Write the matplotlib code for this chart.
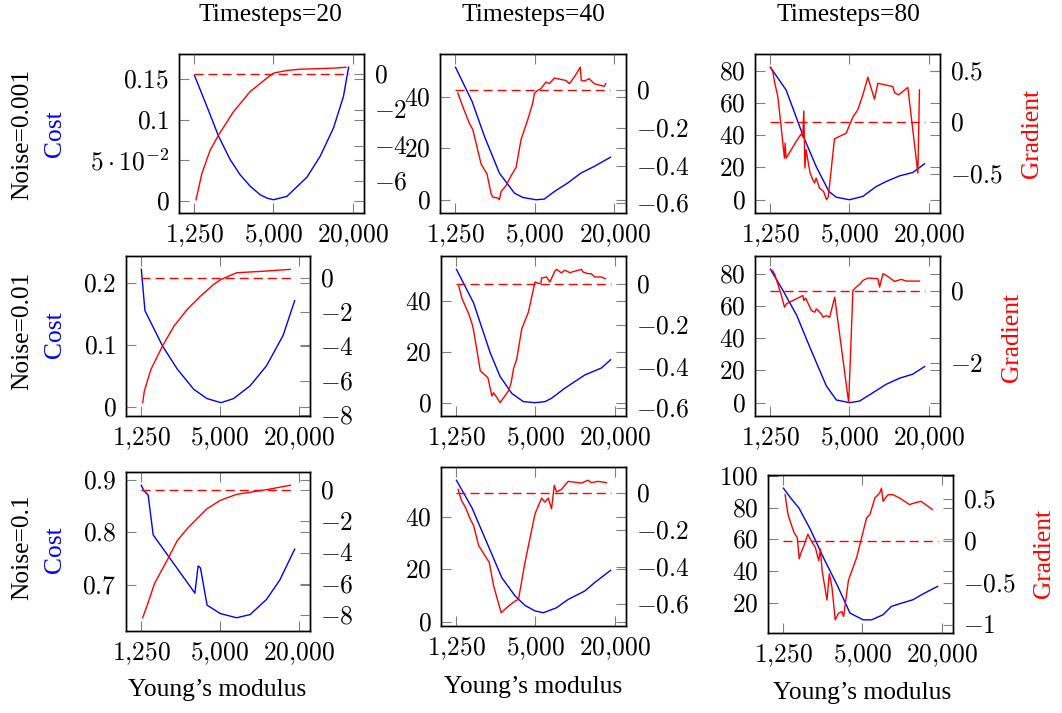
import numpy as np
import matplotlib
matplotlib.use("Agg")
import matplotlib.pyplot as plt
from matplotlib.ticker import FixedLocator, FixedFormatter, NullLocator

plt.rcParams['font.family'] = ['Liberation Serif', 'DejaVu Serif']
plt.rcParams['mathtext.fontset'] = 'cm'
FS = 18.4

timesteps = ["Timesteps=20", "Timesteps=40", "Timesteps=80"]
noises = ["Noise=0.001", "Noise=0.01", "Noise=0.1"]
x_ticks = [1250, 5000, 20000]
x_ticklabels = [r"$1{,}250$", r"$5{,}000$", r"$20{,}000$"]

# row 1: noise 0.001
c1_x = [1250, 1552, 1906, 2336, 2788, 3323, 3958, 4453, 5000, 6324, 8981, 11340, 14325, 17060, 18660]
c1_y = [0.155, 0.117, 0.080, 0.051, 0.032, 0.018, 0.0074, 0.0033, 0.0012, 0.0054, 0.029, 0.055, 0.090, 0.129, 0.165]
g1_x = [1287, 1423, 1646, 1906, 2480, 3323, 4453, 5000, 6324, 7992, 14325, 17811]
g1_y = [-7.03, -5.57, -4.26, -3.41, -2.10, -0.97, -0.22, 0.06, 0.21, 0.28, 0.34, 0.39]

c2_x = [1250, 1671, 2072, 2688, 3493, 4034, 5091, 5883, 7005, 8831, 11133, 14047, 18660]
c2_y = [51.7, 38.3, 24.7, 10.4, 2.6, 0.9, 0.0, 0.26, 3.2, 6.5, 10.4, 13.0, 16.6]
g2_x = [1302, 1420, 1590, 1690, 1955, 2167, 2327, 2395, 2612, 2688, 2768, 3020, 3294, 3597, 3918, 4403, 4802,
        4946, 5236, 5550, 6057, 6421, 7005, 8578, 9093, 9925, 11010, 11210, 11800, 12870, 14047, 16710, 17190]
g2_y = [-0.016, -0.089, -0.176, -0.210, -0.393, -0.445, -0.550, -0.567, -0.572, -0.581, -0.537, -0.506, -0.454,
        -0.410, -0.263, -0.158, -0.071, -0.019, -0.002, 0.007, 0.042, 0.033, 0.063, 0.050, 0.033, 0.068, 0.120,
        0.050, 0.047, 0.059, 0.033, 0.019, 0.033]

c3_x = [1250, 1646, 2204, 2788, 3480, 3958, 5000, 6324, 7992, 9510, 12030, 15200, 18660]
c3_y = [82.1, 68.0, 40.2, 20.6, 5.2, 1.6, 0.0, 2.1, 8.2, 11.3, 14.8, 16.9, 22.3]
g3_x = [1250, 1303, 1342, 1423, 1508, 1598, 1617, 1646, 1800, 1962, 2138, 2204, 2245, 2287, 2336, 2506, 2630,
        2707, 2788, 2950, 3170, 3345, 3452, 3843, 4716, 5300, 5784, 6324, 6900, 7750, 8220, 10700, 11020, 11810,
        13910, 16580, 17060]
g3_y = [0.532, 0.490, 0.394, 0.250, -0.038, -0.343, -0.199, -0.343, -0.263, -0.183, -0.112, -0.135, 0.112,
        -0.439, -0.263, -0.487, -0.551, -0.583, -0.535, -0.631, -0.663, -0.744, -0.712, -0.157, -0.103, 0.051,
        0.122, 0.266, 0.436, 0.224, 0.378, 0.346, 0.288, 0.266, 0.337, -0.487, 0.314]

# row 2: noise 0.01
c4_x = [1250, 1332, 1815, 2359, 3150, 3985, 5091, 6340, 8490, 11360, 15220, 18660]
c4_y = [0.2216, 0.155, 0.098, 0.0605, 0.028, 0.013, 0.0065, 0.013, 0.0335, 0.066, 0.115, 0.171]
g4_x = [1280, 1318, 1480, 1815, 2222, 2810, 3545, 4475, 5091, 6700, 11360, 17290]
g4_y = [-7.28, -6.60, -5.34, -3.98, -2.82, -1.84, -1.07, -0.39, -0.10, 0.29, 0.39, 0.49]

c5_x = [1250, 1690, 2264, 2690, 3299, 4045, 4960, 5900, 6625, 8350, 11860, 15840, 18660]
c5_y = [52.5, 39.3, 19.7, 10.5, 3.9, 0.66, 0.26, 0.66, 1.97, 5.9, 11.1, 13.8, 17.05]
g5_x = [1302, 1380, 1550, 1644, 1690, 1900, 2170, 2330, 2400, 2545, 2690, 3112, 3265, 3395, 3600, 3930, 4415,
        4960, 5260, 5505, 5570, 6070, 6440, 7020, 7220, 7890, 8350, 9130, 11190, 11520, 12570, 13310, 14100,
        15840, 16990]
g5_y = [-0.010, -0.071, -0.144, -0.193, -0.225, -0.420, -0.453, -0.542, -0.526, -0.550, -0.574, -0.517, -0.477,
        -0.412, -0.363, -0.217, -0.136, 0.010, 0.002, 0.005, 0.029, 0.034, 0.010, 0.062, 0.071, 0.054, 0.067,
        0.055, 0.071, 0.058, 0.050, 0.050, 0.034, 0.034, 0.026]

c6_x = [1250, 1558, 1987, 2350, 2796, 3332, 3975, 5010, 5970, 7550, 9520, 12050, 15200, 18660]
c6_y = [82.7, 69.6, 54.0, 39.5, 24.9, 10.4, 1.66, 0.0, 1.0, 6.2, 11.4, 15.2, 17.7, 22.4]
g6_x = [1250, 1310, 1357, 1516, 1600, 1655, 1857, 2090, 2210, 2245, 2320, 2565, 2715, 2796, 3053, 3145, 3332,
        3530, 3860, 4930, 5310, 5630, 5970, 6330, 6920, 8230, 8480, 8990, 9520, 11030, 12390, 13530, 17060]
g6_y = [0.605, 0.549, 0.437, -0.121, -0.447, -0.353, -0.260, -0.167, -0.121, -0.260, -0.195, -0.540, -0.586,
        -0.493, -0.633, -0.726, -0.679, -0.726, -0.167, -3.098, 0.019, 0.112, 0.186, 0.298, 0.363, 0.344, 0.112,
        0.484, 0.437, 0.270, 0.326, 0.279, 0.279]

# row 3: noise 0.1
c7_x = [1250, 1302, 1410, 1541, 3215, 3400, 3545, 3985, 5030, 6700, 8490, 11360, 14360, 18660]
c7_y = [0.890, 0.880, 0.871, 0.795, 0.684, 0.736, 0.732, 0.661, 0.645, 0.637, 0.643, 0.672, 0.709, 0.768]
g7_x = [1280, 1400, 1575, 2000, 2359, 2810, 3335, 3985, 5030, 6700, 11360, 17290]
g7_y = [-8.15, -7.26, -5.98, -4.39, -3.23, -2.48, -1.85, -1.21, -0.68, -0.30, 0.0, 0.28]

c8_x = [1250, 1644, 2135, 2772, 3497, 4160, 4960, 5738, 7220, 8870, 11860, 14100, 18660]
c8_y = [54.0, 43.4, 30.1, 16.8, 9.8, 6.2, 4.1, 3.4, 5.3, 8.5, 11.7, 14.9, 19.6]
g8_x = [1287, 1365, 1462, 1590, 1690, 1846, 2223, 2400, 2740, 3112, 3497, 3710, 4160, 4960, 5570, 5900, 6250,
        6625, 6950, 7220, 7890, 8870, 11190, 12570, 13310, 14960, 17290]
g8_y = [0.018, -0.042, -0.078, -0.141, -0.177, -0.285, -0.376, -0.502, -0.647, -0.611, -0.584, -0.575, -0.376,
        -0.114, -0.029, -0.051, -0.029, -0.087, 0.040, 0.004, 0.018, 0.061, 0.052, 0.067, 0.054, 0.061, 0.054]

c9_x = [1250, 1420, 1642, 2010, 2530, 3200, 4020, 5070, 5860, 7180, 8290, 9580, 12100, 14380, 18660]
c9_y = [92.2, 86.0, 79.7, 66.1, 48.3, 31.5, 13.7, 9.5, 9.5, 12.7, 17.9, 19.6, 22.1, 25.7, 30.5]
g9_x = [1287, 1355, 1405, 1505, 1593, 1650, 1687, 1790, 1918, 2068, 2190, 2250, 2323, 2390, 2462, 2683, 2795,
        2925, 3100, 3285, 3480, 3590, 3910, 4520, 5375, 5700, 6210, 6760, 6975, 7180, 7830, 8530, 9580, 11410,
        12450, 13970, 17040]
g9_y = [0.550, 0.314, 0.236, 0.098, 0.039, -0.216, -0.157, -0.059, 0.079, -0.020, -0.079, -0.157, -0.236,
        -0.098, -0.354, -0.707, -0.393, -0.550, -0.943, -0.864, -0.845, -0.903, -0.471, -0.196, 0.275, 0.314,
        0.511, 0.570, 0.628, 0.471, 0.550, 0.550, 0.511, 0.432, 0.452, 0.471, 0.373]

cost_ticks = [[0, 0.05, 0.1, 0.15], [0, 20, 40], [0, 20, 40, 60, 80],
              [0, 0.1, 0.2], [0, 20, 40], [0, 20, 40, 60, 80],
              [0.7, 0.8, 0.9], [0, 20, 40], [20, 40, 60, 80, 100]]
grad_ticks = [[-6, -4, -2, 0], [-0.6, -0.4, -0.2, 0], [-0.5, 0, 0.5],
              [-8, -6, -4, -2, 0], [-0.6, -0.4, -0.2, 0], [-2, 0],
              [-8, -6, -4, -2, 0], [-0.6, -0.4, -0.2, 0], [-1, -0.5, 0, 0.5]]

panels = [(c1_x, c1_y, g1_x, g1_y), (c2_x, c2_y, g2_x, g2_y), (c3_x, c3_y, g3_x, g3_y),
          (c4_x, c4_y, g4_x, g4_y), (c5_x, c5_y, g5_x, g5_y), (c6_x, c6_y, g6_x, g6_y),
          (c7_x, c7_y, g7_x, g7_y), (c8_x, c8_y, g8_x, g8_y), (c9_x, c9_y, g9_x, g9_y)]

# axes boxes in pixels: left, top, right, bottom
boxes = [(179, 54, 364, 213), (440, 54, 626, 213), (755, 54, 940, 213),
         (126, 256, 310, 416), (441, 256, 626, 416), (755, 256, 940, 416),
         (126, 472, 310, 631), (441, 467, 626, 626), (768, 475, 953, 633)]

W, H = 1062, 713
fig = plt.figure(figsize=(W / 100, H / 100), dpi=100)


def tex(v):
    if abs(v - 0.05) < 1e-9:
        return r"$5\cdot10^{-2}$"
    return "$%g$" % v


def style(ax):
    ax.tick_params(direction='in', length=7, width=0.8, color='0.5', labelsize=FS, pad=7)
    for s in ax.spines.values():
        s.set_linewidth(1.0)


for i, (cx, cy, gx, gy) in enumerate(panels):
    l, t, r, b = boxes[i]
    ax = fig.add_axes([l / W, 1 - b / H, (r - l) / W, (b - t) / H])
    ax.set_xscale('log')
    ax.plot(cx, cy, color='#0000ff', lw=1.0)
    ax.margins(y=0.1)
    ax2 = ax.twinx()
    ax2.plot(gx, gy, color='#ff0000', lw=1.0)
    ax2.plot([cx[0], cx[-1]], [0, 0], color='#ff0000', lw=1.0, dashes=(6.5, 3.6))
    ax2.margins(y=0.1)

    lo, hi = min(cx), max(cx)
    d = np.log10(hi / lo) * 0.1
    ax.set_xlim(lo / 10 ** d, hi * 10 ** d)
    ax.xaxis.set_major_locator(FixedLocator(x_ticks))
    ax.xaxis.set_major_formatter(FixedFormatter(x_ticklabels))
    ax.xaxis.set_minor_locator(NullLocator())

    ax.yaxis.set_major_locator(FixedLocator(cost_ticks[i]))
    ax.yaxis.set_major_formatter(FixedFormatter([tex(v) for v in cost_ticks[i]]))
    ax2.yaxis.set_major_locator(FixedLocator(grad_ticks[i]))
    ax2.yaxis.set_major_formatter(FixedFormatter([tex(v) for v in grad_ticks[i]]))
    ax2.yaxis.set_minor_locator(NullLocator())
    ax.yaxis.set_minor_locator(NullLocator())

    style(ax)
    style(ax2)
    ax.tick_params(axis='x', top=True, bottom=True)
    ax.tick_params(axis='y', left=True, right=True, labelright=False)
    ax2.tick_params(axis='y', left=False, right=True)

# column titles
for x, s in zip([270, 533, 848], timesteps):
    fig.text(x / W, 1 - 15 / H, s, ha='center', va='center', fontsize=FS)

# row labels
for y, s in zip([134, 331, 547], noises):
    fig.text(22 / W, 1 - y / H, s, ha='center', va='center', rotation=90, fontsize=FS)
for y in [134, 335, 550]:
    fig.text(55 / W, 1 - y / H, "Cost", ha='center', va='center', rotation=90, fontsize=FS, color='#0000ff')
for x, y in [(1032, 133), (1012, 337), (1044, 553)]:
    fig.text(x / W, 1 - y / H, "Gradient", ha='center', va='center', rotation=90, fontsize=FS, color='#ff0000')
for x, y in [(217, 690), (533, 687), (862, 693)]:
    fig.text(x / W, 1 - y / H, "Young’s modulus", ha='center', va='center', fontsize=FS)

fig.savefig("out.png", dpi=100)
